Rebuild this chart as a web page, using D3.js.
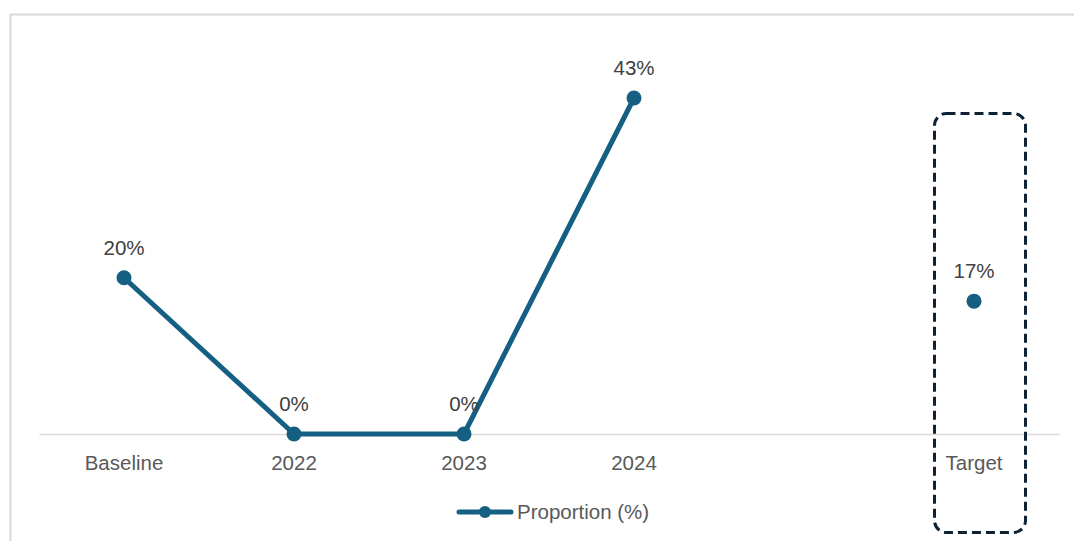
<!DOCTYPE html>
<html><head><meta charset="utf-8">
<script src="https://cdn.jsdelivr.net/npm/d3@7"></script>
<style>body{margin:0;background:#fff}svg{display:block}</style>
</head><body>
<svg id="c" width="1074" height="541"></svg>
<script>
const categories = ["Baseline", "2022", "2023", "2024", "", "Target"];
const lineValues = [20, 0, 0, 43];
const targetValue = 17;
const seriesName = "Proportion (%)";

const svg = d3.select("#c");
const font = "'Liberation Sans', Arial, sans-serif";
const color = "#156082";
const fs = 20.5;

// outer frame
svg.append("rect").attr("x", 10.5).attr("y", 14.5).attr("width", 1100).attr("height", 600)
  .attr("fill", "none").attr("stroke", "#d9d9d9").attr("stroke-width", 2);

const x = d3.scaleBand().domain(categories.map((d, i) => i)).range([39, 1059]);
const cx = i => x(i) + x.bandwidth() / 2;
const y = d3.scaleLinear().domain([0, 43]).range([434, 98]);

// axis
const ax = svg.append("g").attr("transform", "translate(0,434)")
  .call(d3.axisBottom(x).tickSize(0).tickFormat(i => categories[i]));
ax.select(".domain").attr("stroke", "#d9d9d9").attr("stroke-width", 1.5);
ax.selectAll("text").attr("dy", 0).attr("y", 36).attr("font-family", font)
  .attr("font-size", fs).attr("fill", "#595959");

// dashed target box
svg.append("rect").attr("x", 934.5).attr("y", 113.5).attr("width", 91).attr("height", 419)
  .attr("rx", 12).attr("fill", "none").attr("stroke", "#0e2233").attr("stroke-width", 3)
  .attr("stroke-dasharray", "9,5");

// line
const pts = lineValues.map((v, i) => [cx(i), y(v)]);
svg.append("path").attr("d", d3.line()(pts)).attr("fill", "none")
  .attr("stroke", color).attr("stroke-width", 5).attr("stroke-linejoin", "round");

const allPts = lineValues.map((v, i) => ({i, v})).concat([{i: 5, v: targetValue}]);
svg.selectAll("circle.m").data(allPts).join("circle").attr("class", "m")
  .attr("cx", d => cx(d.i)).attr("cy", d => y(d.v)).attr("r", 7.5).attr("fill", color);

svg.selectAll("text.lbl").data(allPts).join("text").attr("class", "lbl")
  .attr("x", d => cx(d.i)).attr("y", d => y(d.v) - 23).attr("text-anchor", "middle")
  .attr("font-family", font).attr("font-size", fs).attr("fill", "#404040")
  .text(d => d.v + "%");

// legend
const lg = svg.append("g");
lg.append("line").attr("x1", 459).attr("x2", 511).attr("y1", 512).attr("y2", 512)
  .attr("stroke", color).attr("stroke-width", 5).attr("stroke-linecap", "round");
lg.append("circle").attr("cx", 485).attr("cy", 512).attr("r", 6).attr("fill", color);
lg.append("text").attr("x", 517).attr("y", 519).attr("font-family", font)
  .attr("font-size", fs).attr("fill", "#595959").text(seriesName);
</script>
</body></html>
